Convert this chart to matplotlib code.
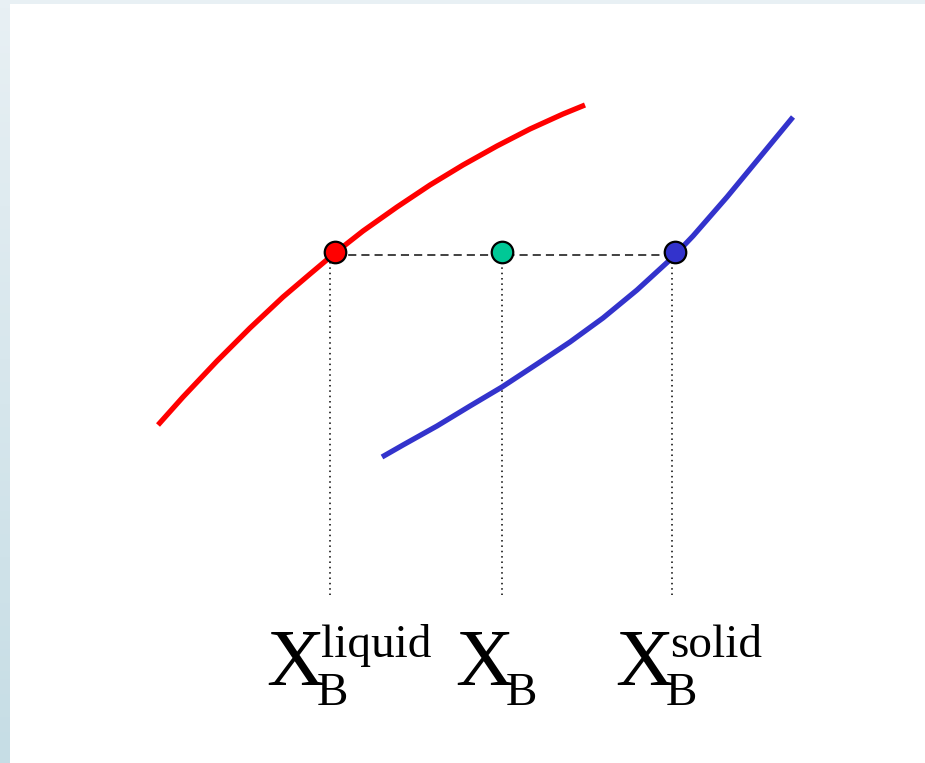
import numpy as np
import matplotlib
matplotlib.use("Agg")
from matplotlib import pyplot as plt

# liquidus / solidus (composition, temperature in arbitrary units)
liq_x = [158, 183, 217, 250, 283, 310, 335, 363, 397, 430, 463, 497, 530, 563, 585]
liq_T = [338, 366, 402, 435, 466, 489, 510, 532, 556, 578, 598, 617, 634, 649, 658]
sol_x = [382, 403, 437, 470, 502, 537, 570, 603, 637, 672, 693, 727, 760, 793]
sol_T = [306, 318, 337, 357, 376, 399, 421, 445, 473, 505, 527, 566, 606, 646]

# tie line at the chosen temperature
tie_T = 511
pt_x = [335, 502, 675]
pt_colors = ["#ff0000", "#00c896", "#3333cc"]
drop_x = [330, 502, 672]
drop_top = 501
drop_bottom = 168

labels_sup = ["liquid", "", "solid"]
label_x = [266, 455, 615]

fig = plt.figure(figsize=(9.25, 7.63), dpi=100)
ax = fig.add_axes([0, 0, 1, 1])
ax.set_xlim(0, 925)
ax.set_ylim(0, 763)
ax.axis("off")

# slide edge: faint blue strip on left and top
grad = np.linspace(0, 1, 100).reshape(-1, 1)
cmap = matplotlib.colors.LinearSegmentedColormap.from_list("edge", ["#c6dde5", "#e8f0f4"])
ax.imshow(grad, cmap=cmap, extent=[0, 10, 0, 763], aspect="auto", origin="lower", zorder=0)
ax.add_patch(plt.Rectangle((0, 759), 925, 4, color="#e8f0f4", lw=0, zorder=0))

ax.plot(liq_x, liq_T, color="#ff0000", lw=3.8, solid_capstyle="butt",
        solid_joinstyle="round", zorder=2)
ax.plot(sol_x, sol_T, color="#3333cc", lw=3.8, solid_capstyle="butt",
        solid_joinstyle="round", zorder=2)

ax.plot([pt_x[0], pt_x[-1]], [tie_T - 3, tie_T - 3], color="#333333", lw=1.3,
        linestyle=(0, (4.5, 2.8)), zorder=1)
for dx in drop_x:
    ax.plot([dx, dx], [drop_top, drop_bottom], color="black", lw=1.1,
            linestyle=(0, (1, 2.5)), zorder=1)

for x, c in zip(pt_x, pt_colors):
    ax.plot(x, tie_T, "o", ms=15.5, mfc=c, mec="black", mew=1.6, zorder=3)

serif = "Liberation Serif"
for x, sup in zip(label_x, labels_sup):
    ax.text(x, 78, "X", fontsize=58, family=serif, ha="left", va="baseline")
    ax.text(x + 51, 58, "B", fontsize=34, family=serif, ha="left", va="baseline")
    if sup:
        ax.text(x + 55, 106, sup, fontsize=34, family=serif, ha="left", va="baseline")

fig.savefig("out.png", dpi=100)
